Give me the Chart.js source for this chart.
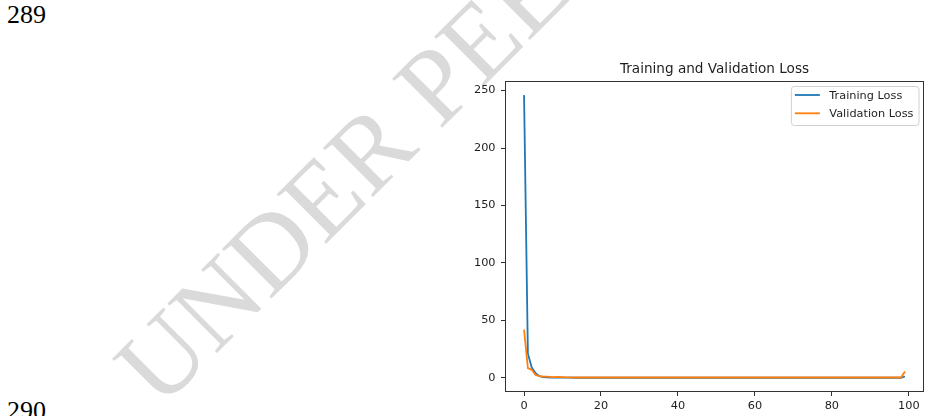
<!DOCTYPE html>
<html>
<head>
<meta charset="utf-8">
<script src="https://cdn.jsdelivr.net/npm/chart.js@4.4.1/dist/chart.umd.min.js"></script>
<style>
  html, body { margin: 0; padding: 0; background: #ffffff; }
  #wrap { position: relative; width: 928px; height: 416px; overflow: hidden; background: #ffffff; }
  #page { position: absolute; left: 0; top: 0; }
  #chart { position: absolute; left: 0; top: 0; }
</style>
</head>
<body>
<div id="wrap">
  <svg id="page" width="928" height="416" xmlns="http://www.w3.org/2000/svg">
    <text transform="translate(160,410) rotate(-45)" font-family="Liberation Serif, Times New Roman, serif" font-size="107" fill="#dadada">UNDER PEER REVIEW</text>
    <text x="7" y="23.3" font-family="Liberation Serif, Times New Roman, serif" font-size="26" fill="#000">289</text>
    <text x="7" y="419.3" font-family="Liberation Serif, Times New Roman, serif" font-size="26" fill="#000">290</text>
  </svg>
  <canvas id="chart" width="928" height="416"></canvas>
</div>
<script>
// ---- data ----
const chartTitle = "Training and Validation Loss";
const seriesNames = ["Training Loss", "Validation Loss"];
const epochs = Array.from({ length: 100 }, (_, i) => i);
const trainingLoss = [
  246, 21, 9, 4, 1.5, 0.6, 0.4, 0.3, 0.25, 0.2,
  0.2, 0.15, 0.15, 0.12, 0.1, 0.1, 0.1, 0.1, 0.1, 0.1,
  0.1, 0.1, 0.1, 0.1, 0.1, 0.1, 0.1, 0.1, 0.1, 0.1,
  0.1, 0.1, 0.1, 0.1, 0.1, 0.1, 0.1, 0.1, 0.1, 0.1,
  0.1, 0.1, 0.1, 0.1, 0.1, 0.1, 0.1, 0.1, 0.1, 0.1,
  0.1, 0.1, 0.1, 0.1, 0.1, 0.1, 0.1, 0.1, 0.1, 0.1,
  0.1, 0.1, 0.1, 0.1, 0.1, 0.1, 0.1, 0.1, 0.1, 0.1,
  0.1, 0.1, 0.1, 0.1, 0.1, 0.1, 0.1, 0.1, 0.1, 0.1,
  0.1, 0.1, 0.1, 0.1, 0.1, 0.1, 0.1, 0.1, 0.1, 0.1,
  0.1, 0.1, 0.1, 0.1, 0.1, 0.1, 0.1, 0.1, 0.1, 1.2
];
const validationLoss = [
  42, 8.5, 7, 2.5, 1.6, 1.2, 1.0, 0.7, 0.6, 0.9,
  0.7, 0.5, 0.4, 0.3, 0.3, 0.3, 0.3, 0.3, 0.3, 0.3,
  0.3, 0.3, 0.3, 0.3, 0.3, 0.3, 0.3, 0.3, 0.3, 0.3,
  0.3, 0.3, 0.3, 0.3, 0.3, 0.3, 0.3, 0.3, 0.3, 0.3,
  0.3, 0.3, 0.3, 0.3, 0.3, 0.3, 0.3, 0.3, 0.3, 0.3,
  0.3, 0.3, 0.3, 0.3, 0.3, 0.3, 0.3, 0.3, 0.3, 0.3,
  0.3, 0.3, 0.3, 0.3, 0.3, 0.3, 0.3, 0.3, 0.3, 0.3,
  0.3, 0.3, 0.3, 0.3, 0.3, 0.3, 0.3, 0.3, 0.3, 0.3,
  0.3, 0.3, 0.3, 0.3, 0.3, 0.3, 0.3, 0.3, 0.3, 0.3,
  0.3, 0.3, 0.3, 0.3, 0.3, 0.3, 0.3, 0.3, 0.3, 5.5
];
const xTickValues = [0, 20, 40, 60, 80, 100];
const yTickValues = [0, 50, 100, 150, 200, 250];
const seriesColors = ["#1f77b4", "#ff7f0e"];

// ---- styling ----
const FONT = "'DejaVu Sans', Verdana, sans-serif";
const TICK_PX = 11.3;
const TITLE_PX = 13.6;
const TEXT_COLOR = "#1e1e1e";
const LINE_W = 1.8;

const frameAndDecor = {
  id: "frameAndDecor",
  afterDatasetsDraw(chart) {
    const { ctx, chartArea: a } = chart;
    ctx.save();
    // axes frame (all four spines)
    ctx.strokeStyle = "#333";
    ctx.lineWidth = 1;
    ctx.strokeRect(Math.round(a.left) + 0.5, Math.round(a.top) + 0.5,
                   Math.round(a.right - a.left) - 1, Math.round(a.bottom - a.top) - 1);
    // title
    ctx.fillStyle = TEXT_COLOR;
    ctx.font = TITLE_PX + "px " + FONT;
    ctx.textAlign = "center";
    ctx.textBaseline = "alphabetic";
    ctx.fillText(chartTitle, (a.left + a.right) / 2, a.top - 8);
    // legend (upper right, inside axes)
    ctx.font = TICK_PX + "px " + FONT;
    const textW = Math.max(...seriesNames.map(n => ctx.measureText(n).width));
    const pad = 4, handle = 25, gap = 9.5, rowH = 18.3;
    const boxW = pad + handle + gap + textW + pad + 1;
    const boxH = 39;
    const bx = a.right - 5.5 - boxW, by = a.top + 5;
    ctx.fillStyle = "rgba(255,255,255,0.8)";
    ctx.strokeStyle = "#d0d0d0";
    ctx.lineWidth = 1;
    ctx.beginPath();
    ctx.roundRect(bx + 0.5, by + 0.5, boxW, boxH, 3);
    ctx.fill();
    ctx.stroke();
    ctx.textAlign = "left";
    ctx.textBaseline = "middle";
    seriesNames.forEach((name, i) => {
      const cy = by + 9 + i * rowH;
      ctx.strokeStyle = seriesColors[i];
      ctx.lineWidth = LINE_W;
      ctx.beginPath();
      ctx.moveTo(bx + pad, cy);
      ctx.lineTo(bx + pad + handle, cy);
      ctx.stroke();
      ctx.fillStyle = TEXT_COLOR;
      ctx.fillText(name, bx + pad + handle + gap, cy + 1);
    });
    ctx.restore();
  }
};

new Chart(document.getElementById("chart"), {
  type: "line",
  data: {
    labels: epochs,
    datasets: [
      { label: seriesNames[0], data: epochs.map((e, i) => ({ x: e, y: trainingLoss[i] })),
        borderColor: seriesColors[0], backgroundColor: seriesColors[0], borderWidth: LINE_W,
        pointRadius: 0, tension: 0, order: 1 },
      { label: seriesNames[1], data: epochs.map((e, i) => ({ x: e, y: validationLoss[i] })),
        borderColor: seriesColors[1], backgroundColor: seriesColors[1], borderWidth: LINE_W,
        pointRadius: 0, tension: 0, order: 0 }
    ]
  },
  options: {
    responsive: false,
    animation: false,
    devicePixelRatio: 1,
    layout: { padding: { left: 460, right: 4, top: 81, bottom: 0 } },
    plugins: { legend: { display: false }, title: { display: false }, tooltip: { enabled: false } },
    scales: {
      x: {
        type: "linear",
        min: -4.95, max: 103.95,
        afterBuildTicks: s => { s.ticks = xTickValues.map(v => ({ value: v })); },
        afterFit: s => { s.height = 24; },
        border: { display: false },
        grid: { display: true, drawOnChartArea: false, drawTicks: true, tickLength: 4, tickColor: "#333", tickWidth: 1 },
        ticks: { color: TEXT_COLOR, font: { family: FONT, size: TICK_PX }, padding: 3, maxRotation: 0, autoSkip: false }
      },
      y: {
        type: "linear",
        min: -12.3, max: 258.3,
        afterBuildTicks: s => { s.ticks = yTickValues.map(v => ({ value: v })); },
        afterFit: s => { s.width = 45; },
        border: { display: false },
        grid: { display: true, drawOnChartArea: false, drawTicks: true, tickLength: 4, tickColor: "#333", tickWidth: 1 },
        ticks: { color: TEXT_COLOR, font: { family: FONT, size: TICK_PX }, padding: 5.5, autoSkip: false }
      }
    }
  },
  plugins: [frameAndDecor]
});
</script>
</body>
</html>
